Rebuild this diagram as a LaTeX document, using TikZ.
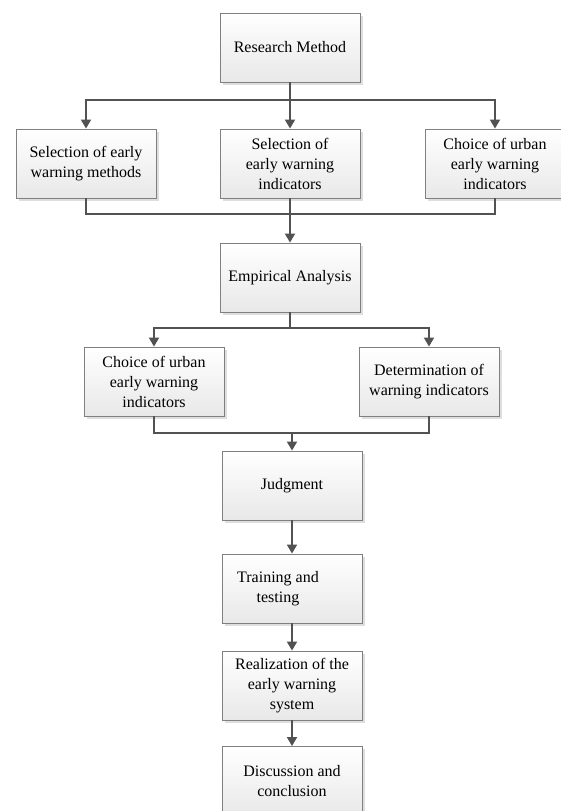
\documentclass[tikz,border=0pt]{standalone}
\usepackage{fontspec}
\setmainfont{Liberation Serif}
\usetikzlibrary{arrows.meta,shadows}
\begin{document}
\begin{tikzpicture}[x=1pt,y=-1pt,
  box/.style={rectangle, draw=black!50, line width=0.9pt,
    top color=white, bottom color=black!9,
    drop shadow={shadow xshift=2.5pt, shadow yshift=-2.5pt, fill=black!13, opacity=1},
    minimum width=140pt, minimum height=69pt, inner sep=2pt, align=center,
    font=\fontsize{16}{20}\selectfont},
  ln/.style={draw=black!68, line width=1.8pt},
  arr/.style={ln, -{Triangle[length=9pt,width=10pt]}}]
\useasboundingbox (0,0) rectangle (561,811);
\clip (0,0) rectangle (561,811);
\fill[white] (0,0) rectangle (561,811);

\node[box] (rm) at (290,47.5) {Research Method};
\node[box] (s1) at (86,163.5) {Selection of early\\warning methods};
\node[box] (s2) at (290,163.5) {Selection of\\early warning\\indicators};
\node[box] (s3) at (495,163.5) {Choice of urban\\early warning\\indicators};
\node[box] (ea) at (290,277.5) {Empirical Analysis};
\node[box] (c4) at (154,381.5) {Choice of urban\\early warning\\indicators};
\node[box] (d5) at (429,381.5) {Determination of\\warning indicators};
\node[box] (jd) at (292,485.5) {Judgment};
\node[box] (tt) at (292,588.5) {\hspace*{-28pt}\begin{tabular}{@{}c@{}}Training and\\testing\end{tabular}};
\node[box] (rl) at (292,685.5) {Realization of the\\early warning\\system};
\node[box] (dc) at (292,781) {Discussion and\\conclusion};

\coordinate (j1) at (290,100);
\coordinate (j2) at (290,214);
\coordinate (j3) at (290,328);
\coordinate (j4) at (292,433);

\draw[arr] (rm.south) -- (s2.north);
\draw[arr] (j1) -| (s1.north);
\draw[arr] (j1) -| (s3.north);
\draw[ln] (s1.south) |- (j2) -| (s3.south);
\draw[arr] (s2.south) -- (ea.north);
\draw[ln] (ea.south) -- (j3);
\draw[arr] (j3) -| (c4.north);
\draw[arr] (j3) -| (d5.north);
\draw[ln] (c4.south) |- (j4) -| (d5.south);
\draw[arr] (j4) -- (jd.north);
\draw[arr] (jd.south) -- (tt.north);
\draw[arr] (tt.south) -- (rl.north);
\draw[arr] (rl.south) -- (dc.north);
\end{tikzpicture}
\end{document}
